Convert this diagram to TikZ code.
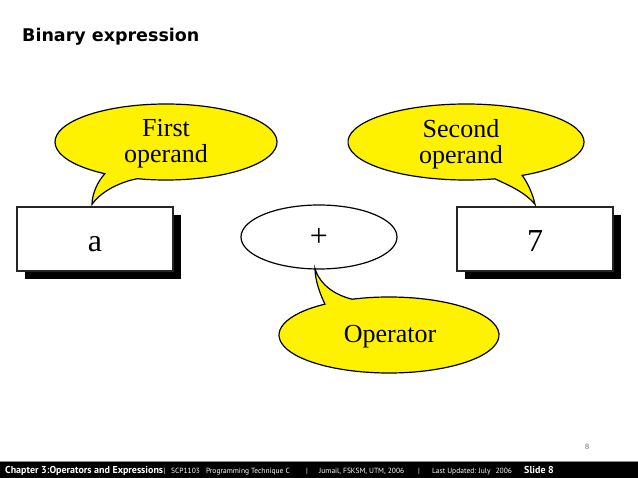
\documentclass[tikz,border=0pt]{standalone}
\usepackage{fontspec}
\setmainfont{Liberation Serif}
\newfontfamily\slidefont{PT Sans}
\newfontfamily\titlefont{DejaVu Sans}
\usetikzlibrary{calc,shadows,shapes.geometric}

\begin{document}
\begin{tikzpicture}[x=1pt,y=-1pt,
    valbox/.style={draw=black!85, line width=1.2pt, fill=white, minimum width=156pt, minimum height=64pt,
        inner sep=0pt, text height=26pt, text depth=0pt, font=\fontsize{32}{32}\selectfont,
        drop shadow={shadow xshift=8pt, shadow yshift=-8pt, fill=black, opacity=1}},
    opshape/.style={ellipse, draw=black, line width=1.2pt, fill=white, minimum width=156pt, minimum height=64pt,
        inner sep=0pt, font=\fontsize{32}{32}\selectfont},
    bubble/.style={fill=yellow, draw=black, line width=1.2pt},
    bubbletext/.style={align=center, inner sep=0pt, font=\fontsize{26}{26}\selectfont},
    foot/.style={anchor=base west, inner sep=0pt, text=white, font=\slidefont\fontsize{7.5}{7.5}\selectfont},
    footbold/.style={foot, font=\slidefont\bfseries\fontsize{10}{10}\selectfont}]

  \useasboundingbox (0,0) rectangle (638,478);

  % Title
  \node[anchor=base west, inner sep=0pt, font=\titlefont\bfseries\fontsize{17.5}{17.5}\selectfont] (title) at (22,42) {Binary expression};

  % Operands and operator
  \node[valbox] (a) at (95,239) {a};
  \node[valbox] (seven) at (535,239) {7};
  \node[opshape] (op) at (319,237) {+};

  % Callouts
  \coordinate (c1) at (166,142);
  \filldraw[bubble] ($(c1)+(123.4:111 and 38)$) arc[start angle=123.4, end angle=465, x radius=111, y radius=38]
      .. controls (115,183) and (98,195) .. ($(a.north)+(-3,-2)$)
      .. controls (92,195) and (97,182) .. cycle;
  \node[bubbletext] (first) at (166,144) {First\\operand};

  \coordinate (c2) at (466,142);
  \filldraw[bubble] ($(c2)+(75.8:118 and 38)$) arc[start angle=75.8, end angle=421.6, x radius=118, y radius=38]
      .. controls (528,183) and (533,195) .. ($(seven.north)+(0,-2)$)
      .. controls (525,192) and (508,185) .. cycle;
  \node[bubbletext] (second) at (461,144) {Second\\operand};

  \coordinate (c3) at (389,335);
  \filldraw[bubble] ($(c3)+(250.4:110 and 38)$) arc[start angle=250.4, end angle=594.4, x radius=110, y radius=38]
      .. controls (320,294) and (315,280) .. ($(op.south)+(-4,-1)$)
      .. controls (320,285) and (335,295) .. cycle;
  \node[bubbletext] (oper) at (390,337) {Operator};

  % Page number
  \node[inner sep=0pt, text=black!65, font=\fontsize{8}{8}\selectfont] (pagenum) at (587,447) {8};

  % Footer bar
  \fill[black!45] (0,461) rectangle (638,462);
  \fill[black] (0,462) rectangle (638,478);
  \node[footbold] (chapter) at (5,474) {Chapter 3:Operators and Expressions};
  \node[foot] (sep0) at (chapter.base east) {|};
  \node[foot] (course) at (171,474) {SCP1103\hspace{4pt} Programming Technique C};
  \node[foot] (sep1) at (306,474) {|};
  \node[foot] (authors) at (319,474) {Jumail, FSKSM, UTM, 2006};
  \node[foot] (sep2) at (418,474) {|};
  \node[foot] (updated) at (432,474) {Last Updated: July\hspace{3pt} 2006};
  \node[footbold] (slide) at (524,474) {Slide 8};
\end{tikzpicture}
\end{document}
